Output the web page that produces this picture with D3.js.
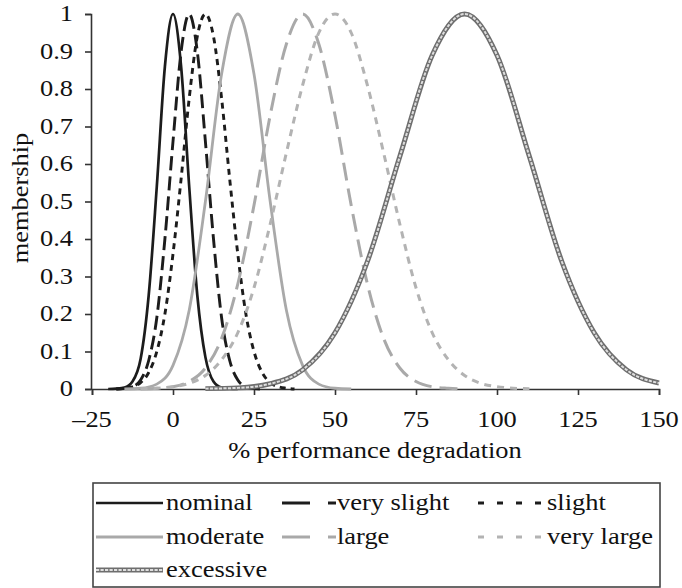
<!DOCTYPE html>
<html>
<head>
<meta charset="utf-8">
<script src="https://cdn.jsdelivr.net/npm/d3@7"></script>
<style>
  body { margin: 0; background: #fff; }
  svg text { font-family: "Liberation Serif", "Times New Roman", serif; fill: #111; }
</style>
</head>
<body>
<div class="chart"></div>
<script>
// tick values
const xTicks = [-25, 0, 25, 50, 75, 100, 125, 150];
const yTicks = [0, 0.1, 0.2, 0.3, 0.4, 0.5, 0.6, 0.7, 0.8, 0.9, 1];

// membership curves
const nominalX = [-20, -17.5, -15, -12.5, -10, -7.5, -5, -2.5, 0, 2.5, 5, 7.5, 10, 12.5, 15, 17.5, 20];
const nominalY = [0, 0.001, 0.004, 0.02, 0.08, 0.25, 0.54, 0.86, 1, 0.86, 0.54, 0.25, 0.085, 0.02, 0.004, 0.001, 0];

const verySlightX = [-17.5, -15, -12.5, -10, -7.5, -5, -2.5, 0, 2.5, 5, 7.5, 10, 12.5, 15, 17.5, 20, 22.5, 25, 27.5];
const verySlightY = [0, 0.001, 0.006, 0.024, 0.076, 0.19, 0.4, 0.66, 0.9, 1, 0.9, 0.66, 0.4, 0.19, 0.076, 0.024, 0.006, 0.001, 0];

const slightX = [-17.5, -15, -12.5, -10, -7.5, -5, -2.5, 0, 2.5, 5, 7.5, 10, 12.5, 15, 17.5, 20, 22.5, 25, 27.5, 30, 32.5, 35, 37.5];
const slightY = [0, 0.002, 0.006, 0.017, 0.044, 0.1, 0.2, 0.36, 0.56, 0.775, 0.94, 1, 0.94, 0.775, 0.56, 0.36, 0.2, 0.1, 0.044, 0.017, 0.006, 0.002, 0];

const moderateX = [-15, -10, -5, 0, 5, 10, 15, 20, 25, 30, 35, 40, 45, 50, 55];
const moderateY = [0, 0.002, 0.013, 0.063, 0.21, 0.5, 0.84, 1, 0.84, 0.5, 0.21, 0.063, 0.013, 0.002, 0];

const largeX = [-10, -5, 0, 5, 10, 15, 20, 25, 30, 35, 40, 45, 50, 55, 60, 65, 70, 75, 80, 85, 90];
const largeY = [0, 0.002, 0.006, 0.02, 0.056, 0.135, 0.28, 0.49, 0.73, 0.92, 1, 0.92, 0.73, 0.49, 0.28, 0.135, 0.056, 0.02, 0.006, 0.002, 0];

const veryLargeX = [-10, -5, 0, 5, 10, 15, 20, 25, 30, 35, 40, 45, 50, 55, 60, 65, 70, 75, 80, 85, 90, 95, 100, 105, 110];
const veryLargeY = [0.001, 0.002, 0.006, 0.015, 0.036, 0.078, 0.15, 0.27, 0.44, 0.63, 0.81, 0.95, 1, 0.95, 0.81, 0.63, 0.44, 0.27, 0.15, 0.078, 0.036, 0.015, 0.006, 0.002, 0.001];

const excessiveX = [10, 20, 30, 40, 50, 60, 70, 80, 90, 100, 110, 120, 130, 140, 150];
const excessiveY = [0.001, 0.003, 0.014, 0.051, 0.15, 0.34, 0.62, 0.89, 1, 0.89, 0.62, 0.34, 0.15, 0.051, 0.016];

const seriesNames = ["nominal", "very slight", "slight", "moderate", "large", "very large", "excessive"];
const seriesX = [nominalX, verySlightX, slightX, moderateX, largeX, veryLargeX, excessiveX];
const seriesY = [nominalY, verySlightY, slightY, moderateY, largeY, veryLargeY, excessiveY];

const width = 682, height = 588;
const black = "#1c1c1c", gray = "#a9a9a9";
// line look per series: colour, width, dash in plot, dash in legend
const looks = [
  {c: black, w: 2.7, dash: null, legDash: null},
  {c: black, w: 2.9, dash: "14,6", legDash: "28,18"},
  {c: black, w: 2.9, dash: "6,5", legDash: "6,13"},
  {c: gray, w: 2.8, dash: null, legDash: null},
  {c: gray, w: 3, dash: "18,8", legDash: "28,18"},
  {c: "#b3b3b3", w: 3, dash: "7,6", legDash: "6,13"},
  {c: "#6e6e6e", w: 5, dash: null, legDash: null, hollow: true}
];
const sx = 1.15; // the type in the picture is a bit wide

const svg = d3.select('.chart').append('svg')
  .attr('width', width).attr('height', height);

const x = d3.scaleLinear().domain([-25, 150]).range([92, 659]);
const y = d3.scaleLinear().domain([0, 1]).range([389, 14]);

function txt(g, px, py, s, anchor) {
  return g.append('text')
    .attr('transform', `translate(${px},${py}) scale(${sx},1)`)
    .attr('text-anchor', anchor || 'start')
    .style('font-size', '23px')
    .text(s);
}

// axes
const axisColor = "#333";
const xAxis = svg.append('g').attr('transform', `translate(0,${y(0)})`)
  .call(d3.axisBottom(x).tickValues(xTicks).tickSize(6).tickFormat(''));
const yAxis = svg.append('g').attr('transform', `translate(${x(-25) - 1},0)`)
  .call(d3.axisLeft(y).tickValues(yTicks).tickSize(6).tickFormat(''));
[xAxis, yAxis].forEach(a => {
  a.select('.domain').attr('stroke', axisColor).attr('stroke-width', 1.6);
  a.selectAll('.tick line').attr('stroke', axisColor).attr('stroke-width', 1.6);
});

xTicks.forEach(v => txt(svg, x(v), 427, v < 0 ? "\u2013" + Math.abs(v) : String(v), 'middle'));
yTicks.forEach(v => txt(svg, 73, y(v) + 7, d3.format('~g')(v), 'end'));

txt(svg, 375, 458, "% performance degradation", 'middle');
svg.append('text')
  .attr('transform', `translate(28,198) rotate(-90) scale(${sx},1)`)
  .attr('text-anchor', 'middle')
  .style('font-size', '23px')
  .text('membership');

// curves
const line = d3.line().x(d => x(d[0])).y(d => y(d[1])).curve(d3.curveMonotoneX);
const plot = svg.append('g');

function stroke(sel, look, legend) {
  sel.attr('fill', 'none')
    .attr('stroke', look.c)
    .attr('stroke-width', look.w)
    .attr('stroke-linejoin', 'round')
    .attr('stroke-dasharray', legend ? look.legDash : look.dash);
}
function hollowInner(sel) {
  sel.attr('fill', 'none').attr('stroke', '#dedede').attr('stroke-width', 2)
    .attr('stroke-dasharray', '3.2,1.3');
}

seriesNames.forEach((name, i) => {
  const pts = d3.zip(seriesX[i], seriesY[i]);
  const look = looks[i];
  plot.append('path').attr('d', line(pts)).call(stroke, look, false);
  if (look.hollow) plot.append('path').attr('d', line(pts)).call(hollowInner);
});

// legend
const leg = svg.append('g');
leg.append('rect').attr('x', 93).attr('y', 483).attr('width', 567).attr('height', 104)
  .attr('fill', 'none').attr('stroke', '#444').attr('stroke-width', 1.6);

const legCols = [{x0: 96, x1: 163, tx: 166}, {x0: 282, x1: 336, tx: 337}, {x0: 478, x1: 543, tx: 547}];
const legRows = [503, 537, 570];
seriesNames.forEach((name, i) => {
  const col = legCols[i % 3], ry = legRows[Math.floor(i / 3)];
  const look = looks[i];
  leg.append('line').attr('x1', col.x0).attr('x2', col.x1).attr('y1', ry).attr('y2', ry)
    .call(stroke, look, true);
  if (look.hollow) {
    leg.append('line').attr('x1', col.x0).attr('x2', col.x1).attr('y1', ry).attr('y2', ry)
      .call(hollowInner);
  }
  txt(leg, col.tx, ry + 7, name, 'start');
});
</script>
</body>
</html>
